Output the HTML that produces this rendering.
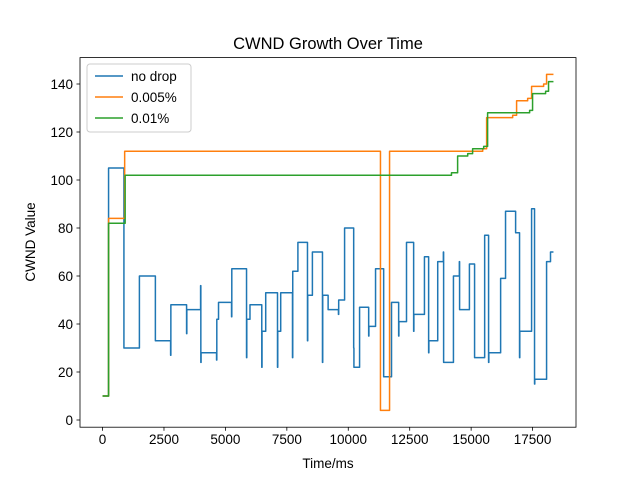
<!DOCTYPE html>
<html><head><meta charset="utf-8"><style>
body{margin:0;background:#fff;}
svg{display:block;font-family:"Liberation Sans","DejaVu Sans",sans-serif;}
</style></head><body>
<svg id="chart" width="640" height="480" viewBox="0 0 640 480" xmlns="http://www.w3.org/2000/svg">
<rect width="640" height="480" fill="#fff"/>
<text x="328" y="49" text-anchor="middle" font-size="16.5">CWND Growth Over Time</text>
<text x="328" y="468" text-anchor="middle" font-size="13.5">Time/ms</text>
<text transform="translate(35,242) rotate(-90)" text-anchor="middle" font-size="13.5">CWND Value</text>
<g id="grid"></g>
<g id="series"></g>
<rect x="80" y="57.6" width="496" height="369.6" fill="none" stroke="#000" stroke-width="0.8"/>
<g>
<rect x="87" y="64" width="104" height="68" rx="3" fill="#fff" fill-opacity="0.8" stroke="#ccc" stroke-width="1"/>
<g><line x1="95" y1="76" x2="123" y2="76" stroke="#1f77b4" stroke-width="1.5"/><text x="131" y="81" font-size="13.5">no drop</text></g>
<g><line x1="95" y1="97" x2="123" y2="97" stroke="#ff7f0e" stroke-width="1.5"/><text x="131" y="102" font-size="13.5">0.005%</text></g>
<g><line x1="95" y1="118" x2="123" y2="118" stroke="#2ca02c" stroke-width="1.5"/><text x="131" y="123" font-size="13.5">0.01%</text></g>
</g>
</svg>
<script>
const xTicks = [0, 2500, 5000, 7500, 10000, 12500, 15000, 17500];
const yTicks = [0, 20, 40, 60, 80, 100, 120, 140];
const endTime = 18350;
const noDropT = [0,245,870,1500,2150,2770,2780,3420,3430,3990,4000,4010,4640,4650,4720,5250,5260,5860,5870,6000,6480,6490,6640,7120,7130,7250,7730,7740,7950,8340,8350,8540,8950,8960,9180,9600,9610,9850,10220,10230,10460,10830,10840,11110,11440,11760,12050,12060,12370,12660,12670,13100,13270,13280,13640,13870,13880,14280,14520,14530,14930,15140,15550,15710,15720,16200,16400,16810,16970,16980,17460,17580,17590,18070,18230];
const noDropV = [10,105,30,60,33,27,48,36,46,56,24,28,25,42,49,43,63,26,42,48,22,37,53,22,37,53,26,62,74,33,52,70,24,52,46,44,50,80,30,22,47,35,39,63,18,49,35,41,74,37,44,68,28,33,66,70,24,60,66,46,65,26,77,24,28,59,87,78,26,37,88,15,17,66,70];
const drop005T = [0,245,900,11310,11680,15470,15630,16690,16850,17300,17460,17950,18070];
const drop005V = [10,84,112,4,112,113,126,127,133,134,139,140,144];
const drop01T = [0,245,920,14200,14450,14860,15060,15510,15670,17380,17500,18030,18150];
const drop01V = [10,82,102,103,110,111,113,114,128,129,136,137,141];

const X0=80,X1=576,Y0=427.2,Y1=57.6;
const xMin=-917.5,xMax=19267.5,yMin=-3,yMax=151;
const sx=t=>X0+(t-xMin)/(xMax-xMin)*(X1-X0);
const sy=v=>Y0-(v-yMin)/(yMax-yMin)*(Y0-Y1);
const NS='http://www.w3.org/2000/svg';
const grid=document.getElementById('grid');
xTicks.forEach(t=>{
  const g=document.createElementNS(NS,'g');
  
  
  const l=document.createElementNS(NS,'line');
  l.setAttribute('x1',sx(t));l.setAttribute('x2',sx(t));l.setAttribute('y1',Y0);l.setAttribute('y2',Y0+3.5);l.setAttribute('stroke','#000');l.setAttribute('stroke-width','0.8');
  const tx=document.createElementNS(NS,'text');
  tx.setAttribute('x',sx(t));tx.setAttribute('y',Y0+17);tx.setAttribute('text-anchor','middle');tx.setAttribute('font-size','13.5');
  tx.textContent=t;
  g.appendChild(l);g.appendChild(tx);grid.appendChild(g);
});
yTicks.forEach(v=>{
  const g=document.createElementNS(NS,'g');
  
  
  const l=document.createElementNS(NS,'line');
  l.setAttribute('x1',X0-3.5);l.setAttribute('x2',X0);l.setAttribute('y1',sy(v));l.setAttribute('y2',sy(v));l.setAttribute('stroke','#000');l.setAttribute('stroke-width','0.8');
  const tx=document.createElementNS(NS,'text');
  tx.setAttribute('x',X0-7);tx.setAttribute('y',sy(v)+5);tx.setAttribute('text-anchor','end');tx.setAttribute('font-size','13.5');
  tx.textContent=v;
  g.appendChild(l);g.appendChild(tx);grid.appendChild(g);
});
function stepPath(T,V){
  let d='M'+sx(T[0])+' '+sy(V[0]);
  for(let i=1;i<T.length;i++){d+=' H'+sx(T[i])+' V'+sy(V[i]);}
  d+=' H'+sx(endTime);
  return d;
}
const ser=document.getElementById('series');
function addSeries(T,V,color,name){
  const p=document.createElementNS(NS,'path');
  p.setAttribute('d',stepPath(T,V));
  p.setAttribute('fill','none');p.setAttribute('stroke',color);p.setAttribute('stroke-width','1.5');p.setAttribute('stroke-linejoin','round');
  
  
  ser.appendChild(p);
}
addSeries(noDropT,noDropV,'#1f77b4','series-no-drop');
addSeries(drop005T,drop005V,'#ff7f0e','series-0.005');
addSeries(drop01T,drop01V,'#2ca02c','series-0.01');
</script>
</body></html>
